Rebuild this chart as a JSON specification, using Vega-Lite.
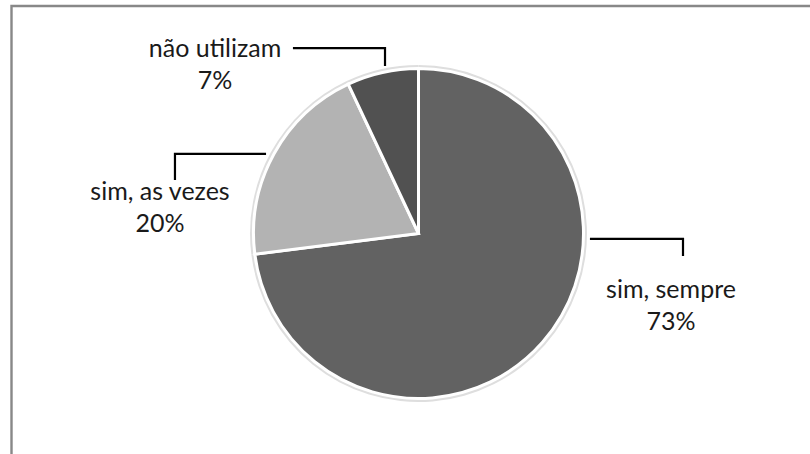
{
  "$schema": "https://vega.github.io/schema/vega-lite/v6.json",
  "width": 798.5,
  "height": 448,
  "autosize": {"type": "none"},
  "padding": {"left": 11.5, "top": 6, "right": 0, "bottom": 0},
  "background": "white",
  "config": {
    "view": {"stroke": "#888888", "strokeWidth": 2.4, "strokeDash": [798.5, 1246.5, 448]},
    "text": {"font": "Lato"}
  },
  "datasets": {
    "fatias": [
      {"categoria": "sim, sempre", "pct": 73},
      {"categoria": "sim, as vezes", "pct": 20},
      {"categoria": "não utilizam", "pct": 7}
    ],
    "rotulos": [
      {"categoria": "não utilizam", "x": -1.2333, "y": 1.0697},
      {"categoria": "sim, as vezes", "x": -1.5667, "y": 0.2},
      {"categoria": "sim, sempre", "x": 1.5303, "y": -0.3909}
    ],
    "guias": [
      {"categoria": "não utilizam", "ordem": 1, "x": -0.761, "y": 1.124},
      {"categoria": "não utilizam", "ordem": 2, "x": -0.203, "y": 1.124},
      {"categoria": "não utilizam", "ordem": 3, "x": -0.203, "y": 1.015},
      {"categoria": "sim, as vezes", "ordem": 1, "x": -1.476, "y": 0.324},
      {"categoria": "sim, as vezes", "ordem": 2, "x": -1.476, "y": 0.482},
      {"categoria": "sim, as vezes", "ordem": 3, "x": -0.924, "y": 0.482},
      {"categoria": "sim, sempre", "ordem": 1, "x": 1.039, "y": -0.033},
      {"categoria": "sim, sempre", "ordem": 2, "x": 1.603, "y": -0.033},
      {"categoria": "sim, sempre", "ordem": 3, "x": 1.603, "y": -0.136}
    ]
  },
  "layer": [
    {
      "data": {"name": "fatias"},
      "mark": {"type": "arc", "outerRadius": 168.5, "fill": "#dedede"},
      "encoding": {
        "theta": {"field": "pct", "type": "quantitative", "stack": true},
        "order": {"field": "pct", "sort": "descending"},
        "x": {"datum": 0, "type": "quantitative", "scale": {"domain": [-2.4667, 2.3727], "nice": false, "zero": false}, "axis": null},
        "y": {"datum": 0, "type": "quantitative", "scale": {"domain": [-1.3364, 1.3788], "nice": false, "zero": false}, "axis": null}
      }
    },
    {
      "data": {"name": "fatias"},
      "mark": {"type": "arc", "outerRadius": 165, "stroke": "white", "strokeWidth": 3},
      "encoding": {
        "theta": {"field": "pct", "type": "quantitative", "stack": true},
        "order": {"field": "pct", "sort": "descending"},
        "color": {
          "field": "categoria",
          "type": "nominal",
          "scale": {"domain": ["sim, sempre", "sim, as vezes", "não utilizam"], "range": ["#626262", "#b3b3b3", "#515151"]},
          "legend": null
        },
        "x": {"datum": 0, "type": "quantitative"},
        "y": {"datum": 0, "type": "quantitative"}
      }
    },
    {
      "data": {"name": "guias"},
      "mark": {"type": "line", "color": "black", "strokeWidth": 2.2},
      "encoding": {
        "x": {"field": "x", "type": "quantitative"},
        "y": {"field": "y", "type": "quantitative"},
        "detail": {"field": "categoria"},
        "order": {"field": "ordem"}
      }
    },
    {
      "data": {"name": "rotulos"},
      "transform": [
        {"lookup": "categoria", "from": {"data": {"name": "fatias"}, "key": "categoria", "fields": ["pct"]}},
        {"calculate": "[datum.categoria, datum.pct + '%']", "as": "linhas"}
      ],
      "mark": {"type": "text", "align": "center", "baseline": "alphabetic", "fontSize": 25, "lineHeight": 32, "color": "#1a1a1a"},
      "encoding": {
        "x": {"field": "x", "type": "quantitative"},
        "y": {"field": "y", "type": "quantitative"},
        "text": {"field": "linhas"}
      }
    }
  ]
}
